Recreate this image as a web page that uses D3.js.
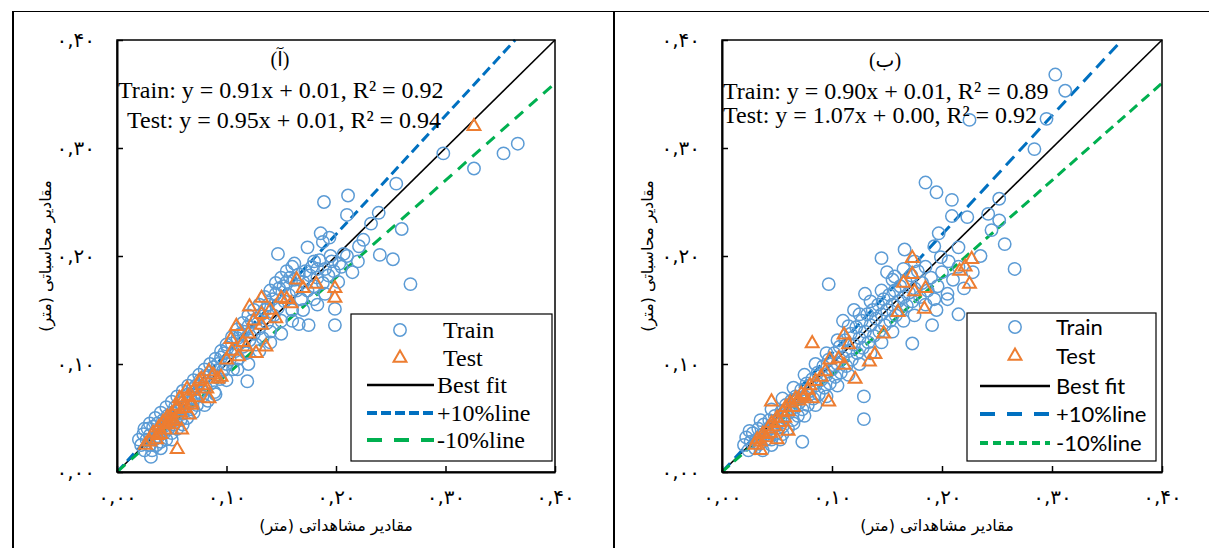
<!DOCTYPE html>
<html>
<head>
<meta charset="utf-8">
<script src="https://cdn.jsdelivr.net/npm/d3@7"></script>
<style>
body { margin:0; background:#fff; }
svg { display:block; }
</style>
</head>
<body>
<div id="chart-area"></div>
<script>
// Scatter of observed vs computed values, two panels (آ) and (ب)

//////////  Data  ///////////
var tickValues = [0, 0.1, 0.2, 0.3, 0.4];
var tickLabels = ["۰,۰۰", "۰,۱۰", "۰,۲۰", "۰,۳۰", "۰,۴۰"];
var xTitle = "مقادیر مشاهداتی (متر)";
var yTitle = "مقادیر محاسباتی (متر)";
var legendLabels = ["Train", "Test", "Best fit", "+10%line", "-10%line"];
var lineSlopes = [1, 1.1, 0.9];   // best fit, +10%, -10%
var panelTags = ["(آ)", "(ب)"];

var eqA = ["Train: y = 0.91x + 0.01, R² = 0.92", "Test: y = 0.95x + 0.01, R² = 0.94"];
var eqB = ["Train: y = 0.90x + 0.01, R² = 0.89", "Test: y = 1.07x + 0.00, R² = 0.92"];

// panel (آ) - train
var trainA = [
  [0.366,0.304],[0.353,0.295],[0.326,0.281],[0.298,0.295],[0.268,0.174],[0.260,0.225],
  [0.255,0.267],[0.239,0.240],[0.240,0.201],[0.252,0.197],[0.211,0.256],[0.210,0.238],
  [0.189,0.250],[0.147,0.202],[0.186,0.221],[0.194,0.217],[0.174,0.208],[0.188,0.213],
  [0.196,0.195],[0.207,0.202],[0.162,0.193],[0.180,0.195],[0.183,0.188],[0.203,0.193],
  [0.199,0.151],[0.199,0.136],[0.175,0.136],[0.183,0.155],[0.166,0.137],[0.119,0.084],
  [0.031,0.014],[0.232,0.230],[0.221,0.209],
  [0.020,0.030],[0.022,0.025],[0.024,0.035],[0.025,0.020],[0.027,0.030],[0.028,0.040],
  [0.030,0.025],[0.030,0.034],[0.032,0.020],[0.033,0.042],[0.034,0.030],[0.035,0.037],
  [0.036,0.025],[0.037,0.045],[0.038,0.033],[0.040,0.040],[0.040,0.028],[0.042,0.048],
  [0.043,0.036],[0.044,0.043],[0.045,0.030],[0.046,0.052],[0.047,0.040],[0.048,0.047],
  [0.050,0.055],[0.050,0.036],[0.052,0.044],[0.053,0.060],[0.054,0.050],[0.055,0.040],
  [0.056,0.057],[0.058,0.064],[0.058,0.048],[0.060,0.054],[0.061,0.068],[0.062,0.060],
  [0.064,0.050],[0.065,0.072],[0.066,0.064],[0.068,0.058],[0.069,0.077],[0.070,0.068],
  [0.072,0.080],[0.073,0.062],[0.075,0.074],[0.076,0.085],[0.078,0.070],[0.080,0.088],
  [0.081,0.078],[0.083,0.066],[0.085,0.092],[0.086,0.082],[0.088,0.097],[0.089,0.074],
  [0.090,0.088],[0.092,0.100],[0.094,0.086],[0.095,0.106],[0.097,0.094],[0.098,0.110],
  [0.100,0.100],[0.101,0.115],[0.103,0.104],[0.105,0.119],[0.106,0.095],[0.108,0.112],
  [0.110,0.124],[0.111,0.105],[0.113,0.128],[0.115,0.116],[0.116,0.130],[0.118,0.110],
  [0.120,0.135],[0.121,0.122],[0.123,0.140],[0.125,0.128],[0.127,0.118],[0.128,0.142],
  [0.130,0.133],[0.132,0.146],[0.133,0.124],[0.135,0.150],[0.137,0.138],[0.138,0.155],
  [0.140,0.130],[0.142,0.160],[0.143,0.145],[0.145,0.165],[0.147,0.152],[0.148,0.170],
  [0.150,0.140],[0.152,0.172],[0.153,0.158],[0.155,0.176],[0.157,0.164],[0.158,0.180],
  [0.160,0.150],[0.162,0.178],[0.164,0.168],[0.166,0.183],[0.168,0.160],[0.170,0.176],
  [0.172,0.186],[0.174,0.168],[0.176,0.182],[0.178,0.190],[0.180,0.172],[0.183,0.180],
  [0.185,0.196],[0.188,0.175],[0.190,0.188],[0.193,0.182],[0.195,0.200],[0.198,0.186],
  [0.202,0.176],[0.205,0.190],[0.210,0.200],[0.215,0.185],[0.220,0.195],[0.225,0.215],
  [0.025,0.040],[0.030,0.045],[0.035,0.050],[0.040,0.055],[0.045,0.060],[0.050,0.065],
  [0.055,0.070],[0.060,0.075],[0.065,0.080],[0.070,0.085],[0.075,0.090],[0.080,0.095],
  [0.085,0.100],[0.090,0.105],[0.095,0.112],[0.100,0.118],[0.105,0.125],[0.110,0.132],
  [0.115,0.138],[0.120,0.145],[0.125,0.150],[0.130,0.155],[0.135,0.162],[0.140,0.168],
  [0.145,0.175],[0.150,0.180],[0.155,0.186],[0.160,0.190],
  [0.040,0.022],[0.050,0.030],[0.060,0.044],[0.070,0.055],[0.080,0.062],[0.090,0.072],
  [0.100,0.085],[0.110,0.095],[0.120,0.100],[0.130,0.112],[0.140,0.120],[0.150,0.128],
  [0.160,0.140],[0.170,0.150],[0.180,0.160],[0.190,0.165]
];

// panel (آ) - test
var testA = [
  [0.326,0.320],[0.164,0.178],[0.182,0.174],[0.199,0.170],[0.199,0.161],[0.150,0.161],
  [0.159,0.156],[0.132,0.161],[0.121,0.153],[0.132,0.146],[0.132,0.136],[0.109,0.135],
  [0.104,0.123],[0.136,0.116],[0.118,0.116],[0.127,0.110],[0.111,0.107],[0.095,0.088],
  [0.084,0.093],[0.077,0.086],[0.075,0.084],[0.084,0.068],[0.064,0.077],[0.057,0.068],
  [0.068,0.062],[0.054,0.058],[0.066,0.053],[0.049,0.049],[0.059,0.039],[0.045,0.044],
  [0.037,0.034],[0.026,0.025],[0.055,0.021],
  [0.030,0.028],[0.033,0.036],[0.036,0.030],[0.038,0.041],[0.040,0.035],[0.042,0.046],
  [0.044,0.039],[0.046,0.051],[0.048,0.044],[0.050,0.054],[0.052,0.047],[0.055,0.061],
  [0.058,0.055],[0.060,0.066],[0.062,0.059],[0.065,0.070],[0.068,0.064],[0.070,0.075],
  [0.073,0.069],[0.078,0.080],[0.082,0.077],[0.088,0.090],[0.092,0.086],[0.100,0.104],
  [0.105,0.112],[0.115,0.120],[0.120,0.128],[0.125,0.140],[0.140,0.150],[0.145,0.142],
  [0.155,0.160],[0.170,0.170]
];

// panel (ب) - train
var trainB = [
  [0.303,0.368],[0.312,0.353],[0.225,0.326],[0.295,0.327],[0.284,0.299],[0.185,0.268],
  [0.195,0.259],[0.209,0.252],[0.209,0.237],[0.223,0.236],[0.252,0.253],[0.242,0.239],
  [0.252,0.233],[0.245,0.224],[0.257,0.211],[0.266,0.188],[0.215,0.146],[0.197,0.221],
  [0.166,0.206],[0.145,0.198],[0.193,0.209],[0.206,0.195],[0.215,0.208],[0.199,0.199],
  [0.157,0.181],[0.097,0.174],[0.191,0.136],[0.173,0.119],[0.129,0.070],[0.129,0.049],
  [0.073,0.028],
  [0.020,0.025],[0.022,0.032],[0.024,0.020],[0.026,0.028],[0.028,0.036],[0.030,0.022],
  [0.031,0.030],[0.033,0.040],[0.034,0.026],[0.036,0.034],[0.037,0.020],[0.038,0.044],
  [0.040,0.030],[0.041,0.038],[0.043,0.048],[0.044,0.034],[0.045,0.025],[0.047,0.042],
  [0.048,0.052],[0.050,0.036],[0.051,0.046],[0.053,0.030],[0.054,0.056],[0.055,0.042],
  [0.057,0.050],[0.058,0.062],[0.060,0.040],[0.061,0.055],[0.063,0.066],[0.064,0.048],
  [0.066,0.060],[0.067,0.070],[0.069,0.052],[0.070,0.064],[0.072,0.076],[0.073,0.058],
  [0.075,0.070],[0.077,0.082],[0.078,0.062],[0.080,0.075],[0.082,0.086],[0.083,0.068],
  [0.085,0.080],[0.087,0.092],[0.088,0.072],[0.090,0.085],[0.092,0.098],[0.093,0.078],
  [0.095,0.090],[0.097,0.104],[0.098,0.082],[0.100,0.095],[0.102,0.110],[0.103,0.088],
  [0.105,0.100],[0.107,0.116],[0.108,0.092],[0.110,0.106],[0.112,0.122],[0.113,0.098],
  [0.115,0.112],[0.117,0.128],[0.118,0.104],[0.120,0.118],[0.122,0.134],[0.123,0.110],
  [0.125,0.124],[0.127,0.140],[0.128,0.115],[0.130,0.130],[0.132,0.146],[0.133,0.120],
  [0.135,0.136],[0.137,0.150],[0.138,0.126],[0.140,0.142],[0.142,0.155],[0.143,0.130],
  [0.145,0.146],[0.147,0.160],[0.148,0.136],[0.150,0.150],[0.152,0.164],[0.153,0.140],
  [0.155,0.155],[0.157,0.168],[0.158,0.145],[0.160,0.158],[0.162,0.172],[0.163,0.150],
  [0.165,0.162],[0.167,0.176],[0.168,0.154],[0.170,0.166],[0.172,0.182],[0.173,0.158],
  [0.175,0.170],[0.178,0.186],[0.180,0.162],[0.182,0.175],[0.185,0.190],[0.187,0.168],
  [0.190,0.180],[0.193,0.160],[0.196,0.172],[0.200,0.185],[0.205,0.165],[0.210,0.178],
  [0.215,0.190],[0.220,0.170],[0.228,0.185],[0.235,0.200],
  [0.025,0.038],[0.035,0.048],[0.045,0.058],[0.055,0.068],[0.065,0.078],[0.075,0.090],
  [0.085,0.100],[0.095,0.110],[0.105,0.122],[0.115,0.135],[0.125,0.146],[0.135,0.158],
  [0.145,0.168],[0.155,0.178],[0.165,0.188],[0.175,0.195],[0.110,0.140],[0.120,0.150],
  [0.130,0.165],[0.150,0.185],
  [0.045,0.030],[0.055,0.035],[0.065,0.045],[0.075,0.052],[0.085,0.062],[0.095,0.070],
  [0.105,0.080],[0.115,0.090],[0.125,0.100],[0.135,0.110],[0.145,0.120],[0.155,0.130],
  [0.165,0.140],[0.175,0.145],[0.185,0.155],[0.195,0.150],[0.205,0.160]
];

// panel (ب) - test
var testB = [
  [0.173,0.198],[0.173,0.183],[0.165,0.175],[0.175,0.167],[0.185,0.170],[0.184,0.151],
  [0.160,0.148],[0.147,0.128],[0.082,0.119],[0.111,0.127],[0.115,0.118],[0.098,0.104],
  [0.094,0.093],[0.139,0.109],[0.134,0.102],[0.121,0.086],[0.111,0.099],[0.106,0.105],
  [0.097,0.065],[0.045,0.065],[0.082,0.068],[0.221,0.190],[0.227,0.197],[0.216,0.186],
  [0.225,0.174],
  [0.030,0.025],[0.032,0.030],[0.035,0.028],[0.037,0.035],[0.040,0.032],[0.042,0.040],
  [0.044,0.036],[0.045,0.045],[0.048,0.042],[0.050,0.050],[0.052,0.046],[0.055,0.055],
  [0.057,0.050],[0.058,0.060],[0.060,0.056],[0.062,0.064],[0.065,0.060],[0.067,0.068],
  [0.070,0.066],[0.072,0.072],[0.075,0.070],[0.078,0.076],[0.080,0.080],[0.085,0.084],
  [0.090,0.088],[0.035,0.020],[0.050,0.030],[0.060,0.038]
];

//////////  Layout  ///////////
var W = 1209, H = 548;
var colTrain = "#5B9BD5", colTest = "#ED7D31", colPlus = "#0070C0", colMinus = "#00B050";

var panels = [
  { x0:117, x1:555, y0:472, y1:40, train:trainA, test:testA, eq:eqA, tag:panelTags[0],
    tagX:280, tagY:66, eqX:[118,127], eqY:[98,128],
    yTitleX:45, xTitleX:336,
    plusDash:"10,5", minusDash:"11,8",
    leg:{x:351, y:314, w:201, h:147, mark:400, lx0:367, lx1:434, tx:[443,443,437,437,437],
         rows:[330,358,385,413,440], font:"Liberation Serif, Times New Roman, serif", size:24,
         plusDash:"10,4", minusDash:"15,12"} },
  { x0:722, x1:1162, y0:472, y1:40, train:trainB, test:testB, eq:eqB, tag:panelTags[1],
    tagX:885, tagY:67, eqX:[723,723], eqY:[99,123],
    yTitleX:647, xTitleX:937,
    plusDash:"12,7", minusDash:"10,6",
    leg:{x:967, y:313, w:189, h:148, mark:1015, lx0:980, lx1:1050, tx:[1056,1056,1056,1056,1056],
         rows:[327,356,386,414,443], font:"Lato, Liberation Sans, sans-serif", size:22,
         plusDash:"15,12", minusDash:"8,5"} }
];

var svg = d3.select("#chart-area")
  .append("svg")
    .attr("width", W)
    .attr("height", H);

// table frame around the two figures
svg.append("line").attr("x1", 12).attr("x2", W).attr("y1", 11.5).attr("y2", 11.5)
  .attr("stroke", "#000").attr("stroke-width", 1);
svg.append("line").attr("x1", 13).attr("x2", 13).attr("y1", 11).attr("y2", H)
  .attr("stroke", "#000").attr("stroke-width", 2);
svg.append("line").attr("x1", 614).attr("x2", 614).attr("y1", 11).attr("y2", H)
  .attr("stroke", "#000").attr("stroke-width", 2);

panels.forEach(function(p){
  var x = d3.scaleLinear().domain([0, 0.4]).range([p.x0, p.x1]);
  var y = d3.scaleLinear().domain([0, 0.4]).range([p.y0, p.y1]);
  var g = svg.append("g");

  // reference lines
  var lineStyles = [
    { color:"#000", width:1.6, dash:null },
    { color:colPlus, width:3, dash:p.plusDash },
    { color:colMinus, width:3, dash:p.minusDash }
  ];
  lineSlopes.forEach(function(s, i){
    var xe = Math.min(0.4, 0.4 / s);
    g.append("line")
      .attr("x1", x(0)).attr("y1", y(0))
      .attr("x2", x(xe)).attr("y2", y(s * xe))
      .attr("stroke", lineStyles[i].color)
      .attr("stroke-width", lineStyles[i].width)
      .attr("stroke-dasharray", lineStyles[i].dash);
  });

  // points
  g.selectAll("circle.train")
    .data(p.train)
    .enter().append("circle")
      .attr("class", "train")
      .attr("cx", function(d){ return x(d[0]); })
      .attr("cy", function(d){ return y(d[1]); })
      .attr("r", 6.2)
      .attr("fill", "none")
      .attr("stroke", colTrain)
      .attr("stroke-width", 1.5);

  var tri = d3.symbol().type(d3.symbolTriangle).size(72);
  g.selectAll("path.test")
    .data(p.test)
    .enter().append("path")
      .attr("class", "test")
      .attr("d", tri)
      .attr("transform", function(d){ return "translate(" + x(d[0]) + "," + y(d[1]) + ")"; })
      .attr("fill", "none")
      .attr("stroke", colTest)
      .attr("stroke-width", 2);

  // plot frame
  g.append("rect")
    .attr("x", p.x0).attr("y", p.y1)
    .attr("width", p.x1 - p.x0).attr("height", p.y0 - p.y1)
    .attr("fill", "none").attr("stroke", "#000").attr("stroke-width", 1.5);

  // axes
  var xAxisCall = d3.axisBottom(x)
    .tickValues(tickValues)
    .tickSizeInner(-6).tickSizeOuter(0).tickPadding(18)
    .tickFormat(function(d, i){ return tickLabels[i]; });
  var xa = g.append("g")
    .attr("transform", "translate(0," + p.y0 + ")")
    .call(xAxisCall);
  var yAxisCall = d3.axisLeft(y)
    .tickValues(tickValues)
    .tickSizeInner(-6).tickSizeOuter(0).tickPadding(22)
    .tickFormat(function(d, i){ return tickLabels[i]; });
  var ya = g.append("g")
    .attr("transform", "translate(" + p.x0 + ",0)")
    .call(yAxisCall);
  [xa, ya].forEach(function(a){
    a.select(".domain").attr("stroke-width", 2);
    a.selectAll(".tick line").attr("stroke-width", 1.5);
    a.selectAll("text")
      .attr("font-family", "DejaVu Sans, sans-serif")
      .attr("font-size", "20px")
      .attr("letter-spacing", "3px")
      .attr("fill", "#000");
  });

  // axis titles
  g.append("text")
    .attr("x", p.xTitleX).attr("y", 531)
    .attr("text-anchor", "middle")
    .attr("font-family", "DejaVu Sans, sans-serif")
    .attr("font-size", "16px")
    .text(xTitle);
  g.append("text")
    .attr("transform", "translate(" + p.yTitleX + ",256) rotate(-90)")
    .attr("dy", "0.35em")
    .attr("text-anchor", "middle")
    .attr("font-family", "DejaVu Sans, sans-serif")
    .attr("font-size", "16px")
    .text(yTitle);

  // panel tag and equations
  g.append("text")
    .attr("x", p.tagX).attr("y", p.tagY)
    .attr("text-anchor", "middle")
    .attr("font-family", "Liberation Serif, DejaVu Sans, serif")
    .attr("font-size", "20px")
    .text(p.tag);
  p.eq.forEach(function(t, i){
    g.append("text")
      .attr("x", p.eqX[i]).attr("y", p.eqY[i])
      .attr("font-family", "Liberation Serif, serif")
      .attr("font-size", "24px")
      .text(t);
  });

  // legend
  var L = p.leg;
  var lg = g.append("g");
  lg.append("rect")
    .attr("x", L.x).attr("y", L.y).attr("width", L.w).attr("height", L.h)
    .attr("fill", "#fff").attr("stroke", "#000").attr("stroke-width", 1.2);
  lg.append("circle")
    .attr("cx", L.mark).attr("cy", L.rows[0]).attr("r", 6.2)
    .attr("fill", "none").attr("stroke", colTrain).attr("stroke-width", 1.5);
  lg.append("path")
    .attr("d", tri)
    .attr("transform", "translate(" + L.mark + "," + L.rows[1] + ")")
    .attr("fill", "none").attr("stroke", colTest).attr("stroke-width", 2);
  var legLines = [
    { color:"#000", width:2.5, dash:null },
    { color:colPlus, width:4, dash:L.plusDash },
    { color:colMinus, width:4, dash:L.minusDash }
  ];
  legLines.forEach(function(s, i){
    lg.append("line")
      .attr("x1", L.lx0).attr("x2", L.lx1)
      .attr("y1", L.rows[i + 2]).attr("y2", L.rows[i + 2])
      .attr("stroke", s.color).attr("stroke-width", s.width)
      .attr("stroke-dasharray", s.dash);
  });
  legendLabels.forEach(function(t, i){
    lg.append("text")
      .attr("x", L.tx[i]).attr("y", L.rows[i])
      .attr("dy", "0.35em")
      .attr("font-family", L.font)
      .attr("font-size", L.size + "px")
      .text(t);
  });
});
</script>
</body>
</html>
